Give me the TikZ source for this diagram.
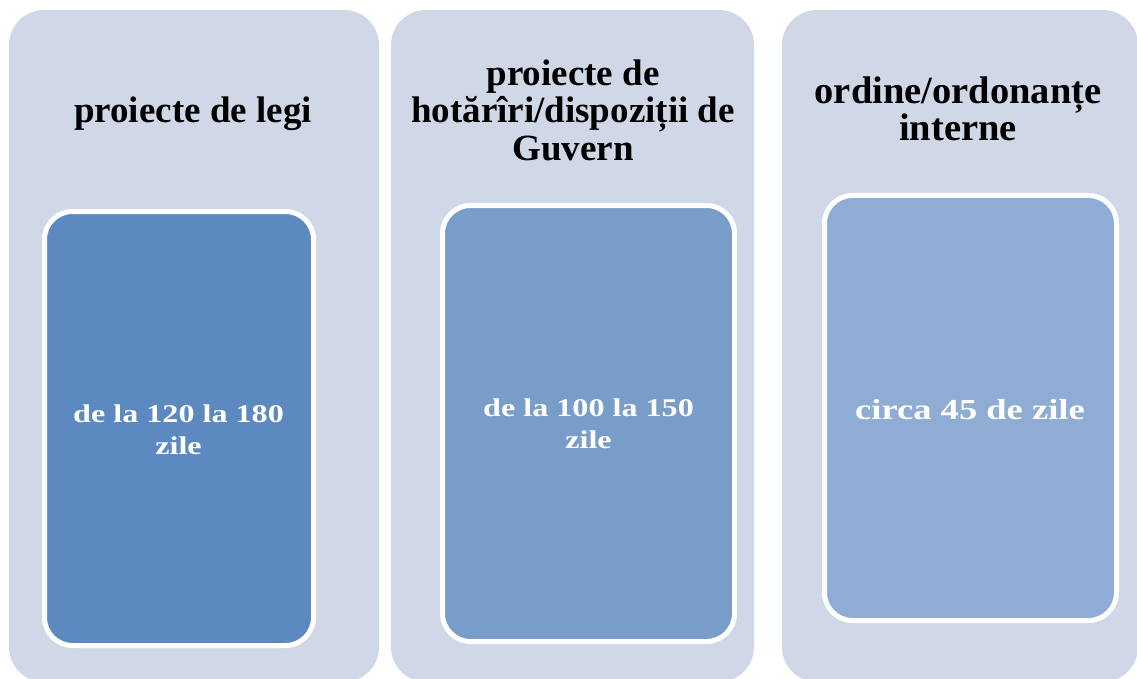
\documentclass[tikz,border=0pt]{standalone}
\usepackage{fontspec}
\setmainfont{Liberation Serif}
\newfontfamily\widefont[FakeStretch=1.26]{Liberation Serif}
\definecolor{outerbg}{RGB}{208,216,232}
\definecolor{boxA}{RGB}{92,137,192}
\definecolor{boxB}{RGB}{120,157,200}
\definecolor{boxC}{RGB}{143,173,212}
\begin{document}
\begin{tikzpicture}[x=1pt,y=-1pt]
\useasboundingbox (0,0) rectangle (1137,679);
\tikzset{
  outerbox/.style={fill=outerbg, draw=none, rounded corners=35pt, anchor=north west, inner sep=0pt, outer sep=0pt},
  innerbox/.style={draw=white, line width=5pt, rounded corners=28pt, inner sep=0pt},
  head/.style={font=\bfseries\fontsize{37}{37.5}\selectfont, align=center, text=black, inner sep=0pt},
  headbig/.style={font=\bfseries\fontsize{38.5}{36.5}\selectfont, align=center, text=black, inner sep=0pt},
  bodytext/.style={font=\widefont\bfseries\fontsize{25.5}{32}\selectfont, align=center, text=white, inner sep=0pt},
  bodybig/.style={font=\widefont\bfseries\fontsize{29}{35}\selectfont, align=center, text=white, inner sep=0pt},
}
% outer columns
\node[outerbox, minimum width=370pt, minimum height=672pt] (o1) at (9,10) {};
\node[outerbox, minimum width=363pt, minimum height=672pt] (o2) at (391,10) {};
\node[outerbox, minimum width=356pt, minimum height=672pt] (o3) at (782,10) {};
% inner boxes
\node[innerbox, fill=boxA, minimum width=269pt, minimum height=434pt] (i1) at (179,428.5) {};
\node[innerbox, fill=boxB, minimum width=292pt, minimum height=436pt] (i2) at (588.5,423.5) {};
\node[innerbox, fill=boxC, minimum width=292pt, minimum height=425pt] (i3) at (970.5,408) {};
% headings
\node[head] (h1) at (193,114) {proiecte de legi};
\node[head] (h2) at (573,110) {proiecte de\\hotărîri/dispoziții de\\Guvern};
\node[headbig] (h3) at (958,109) {ordine/ordonanțe\\interne};
% inner texts
\node[bodytext] (t1) at (178.5,430) {de la 120 la 180\\zile};
\node[bodytext] (t2) at (588.5,424) {de la 100 la 150\\zile};
\node[bodybig] (t3) at (970,409.4) {circa 45 de zile};
\end{tikzpicture}
\end{document}
